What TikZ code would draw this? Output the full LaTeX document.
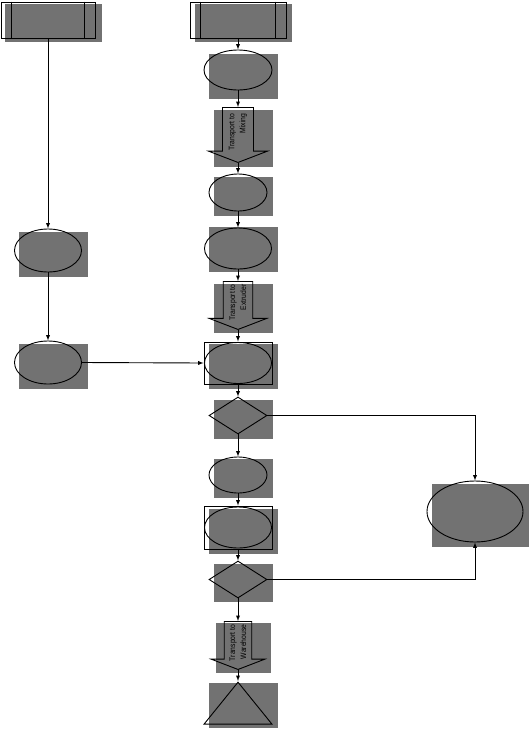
\documentclass[tikz,border=0pt]{standalone}
\usepackage{fontspec}
\newfontfamily\narrowfont[FakeStretch=0.85]{Liberation Sans}
\usetikzlibrary{positioning,arrows,shapes.geometric,shapes.arrows}
\tikzset{>=latex}
\definecolor{shadegrey}{RGB}{114,114,114}

\begin{document}
\begin{tikzpicture}[x=1pt,y=-1pt,
    every path/.style={line width=0.9pt},
    procbox/.style={draw,rectangle,inner sep=0pt,minimum height=36pt},
    opell/.style={draw,ellipse,inner sep=0pt},
    opbox/.style={draw,rectangle,inner sep=0pt,minimum width=68pt,
      path picture={\draw (path picture bounding box.center) ellipse [x radius=33.5pt, y radius=20.5pt];}},
    decision/.style={draw,diamond,inner sep=0pt,minimum width=58pt,minimum height=37pt},
    movearrow/.style={draw,single arrow,shape border rotate=180,rotate=90,
      single arrow tip angle=138,inner xsep=0pt,
      font={\narrowfont\fontsize{8pt}{11pt}\selectfont},align=right},
    storetri/.style={draw,isosceles triangle,isosceles triangle stretches,rotate=90,
      inner sep=0pt,minimum width=68pt,minimum height=42pt}]
      \useasboundingbox (0,0) rectangle (530,729);

      \foreach \xa/\ya/\xb/\yb in {5/4/102/42, 195/4/292/42, 209/54/278/99,
          214/110/273/167, 214/177/273/216, 209/227/278/272, 214/284/273/333,
          209/344/278/389, 214/400/273/439, 214/459/273/498, 209/509/278/554,
          214/564/273/602, 216/623/271/673, 209/683/278/728,
          19/232/88/277, 19/344/88/389, 432/484/529/547}
        \fill[shadegrey] (\xa,\ya) rectangle (\xb,\yb);

      \node[procbox,minimum width=94pt] (srcLeft) at (48,20)    {};
      \node[procbox,minimum width=96pt] (srcMain) at (238,20)   {};

      \node[opell,minimum width=68pt,minimum height=40pt] (prepA)  at (238,70)    {};
      \node[movearrow,anchor=tail,minimum height=55pt,inner ysep=6pt,
            single arrow head extend=14pt] (moveMix) at (238,107) {Transport to\\Mixing};
      \node[opell,minimum width=58pt,minimum height=37pt] (mixA)   at (238,192.5) {};
      \node[opell,minimum width=67pt,minimum height=41pt] (mixB)   at (238,248.5) {};
      \node[movearrow,anchor=tail,minimum height=48pt,inner ysep=6pt,
            single arrow head extend=14pt] (moveExt) at (238,281) {Transport to\\Extruder};
      \node[opbox,minimum height=42pt] (extrA)  at (238,363)   {};
      \node[decision] (checkA) at (238,415.5) {};
      \node[opell,minimum width=58pt,minimum height=36pt] (coolA)  at (238,475)   {};
      \node[opbox,minimum height=43pt] (cutA)   at (238,527.5) {};
      \node[decision] (checkB) at (238,579.5) {};
      \node[movearrow,anchor=tail,minimum height=48pt,inner ysep=5pt,
            single arrow head extend=13pt] (moveWh) at (238,621) {Transport to\\Warehouse};
      \node[storetri,anchor=apex] (storeWh) at (238,681) {};

      \node[opell,minimum width=67pt,minimum height=43pt] (addA)    at (48,250.5)  {};
      \node[opell,minimum width=67pt,minimum height=43pt] (addB)    at (48,362.5)  {};
      \node[opell,minimum width=96pt,minimum height=61pt] (reworkA) at (475,511.5) {};

      \foreach \n in {srcLeft,srcMain} {
        \draw ([xshift=11pt]\n.north west)  -- ([xshift=11pt]\n.south west);
        \draw ([xshift=-11pt]\n.north east) -- ([xshift=-11pt]\n.south east);
      }

      \draw[->] (srcLeft.south) -- (addA.north);
      \draw[->] (addA.south)    -- (addB.north);
      \draw[->] (addB.east)     -- (extrA.west);

      \draw[->] (srcMain.south) -- (prepA.north);
      \draw[->] (prepA.south)   -- (moveMix.tail);
      \draw[->] (moveMix.tip)   -- (mixA.north);
      \draw[->] (mixA.south)    -- (mixB.north);
      \draw[->] (mixB.south)    -- (moveExt.tail);
      \draw[->] (moveExt.tip)   -- (extrA.north);
      \draw[->] (extrA.south)   -- (checkA.north);
      \draw[->] (checkA.south)  -- (coolA.north);
      \draw[->] (coolA.south)   -- (cutA.north);
      \draw[->] (cutA.south)    -- (checkB.north);
      \draw[->] (checkB.south)  -- (moveWh.tail);
      \draw[->] (moveWh.tip)    -- (storeWh.apex);

      \draw[->] (checkA.east) -| (reworkA.north);
      \draw[->] (checkB.east) -| (reworkA.south);
    \end{tikzpicture}
\end{document}
